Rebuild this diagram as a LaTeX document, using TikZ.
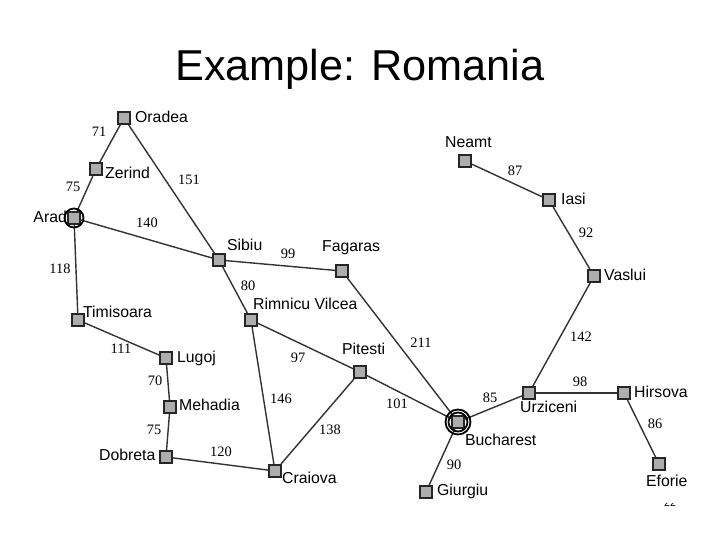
\documentclass[tikz,border=0pt]{standalone}
\usepackage{fontspec}
\setmainfont{Liberation Sans}
\newfontfamily\weightfont{Liberation Serif}
\usepackage{tikz}
\definecolor{cityfill}{gray}{0.68}
\definecolor{roadcol}{gray}{0.2}
\tikzset{
  city/.style={draw=black!85,fill=cityfill,line width=3pt,minimum size=17pt,inner sep=0pt},
  road/.style={draw=roadcol,line width=2pt},
  ring/.style={draw=black,line width=2.6pt},
  cityname/.style={font=\fontsize{22.5}{22.5}\selectfont,inner sep=0pt},
  weight/.style={font=\weightfont\fontsize{20.5}{20.5}\selectfont,inner sep=0pt}
}
\begin{document}
\begin{tikzpicture}[scale=0.5]
\useasboundingbox (0,0) rectangle (72,-54);
\node (title) [font=\fontsize{61.5}{61.5}\selectfont,inner sep=0pt] at (36,-6.9) {Example: Romania};
\node (oradea) [city] at (12.4,-11.8) {};
\node (zerind) [city] at (9.6,-16.9) {};
\node (arad) [city] at (7.4,-21.8) {};
\node (sibiu) [city] at (21.9,-26) {};
\node (fagaras) [city] at (34.2,-27.1) {};
\node (rimnicu) [city] at (25.1,-32) {};
\node (timisoara) [city] at (7.8,-32) {};
\node (lugoj) [city] at (16.6,-35.8) {};
\node (mehadia) [city] at (17,-40.7) {};
\node (dobreta) [city] at (16.6,-45.7) {};
\node (craiova) [city] at (27.5,-47.1) {};
\node (pitesti) [city] at (36,-37.2) {};
\node (bucharest) [city] at (45.8,-42.2) {};
\node (giurgiu) [city] at (42.6,-49.2) {};
\node (urziceni) [city] at (52.9,-39.3) {};
\node (hirsova) [city] at (62.4,-39.3) {};
\node (eforie) [city] at (65.9,-46.4) {};
\node (vaslui) [city] at (59.4,-27.6) {};
\node (iasi) [city] at (54.9,-20) {};
\node (neamt) [city] at (46.5,-16.1) {};
\draw [road] (oradea) -- (zerind);
\draw [road] (zerind) -- (arad);
\draw [road] (oradea) -- (sibiu);
\draw [road] (arad) -- (sibiu);
\draw [road] (arad) -- (timisoara);
\draw [road] (timisoara) -- (lugoj);
\draw [road] (lugoj) -- (mehadia);
\draw [road] (mehadia) -- (dobreta);
\draw [road] (dobreta) -- (craiova);
\draw [road] (sibiu) -- (fagaras);
\draw [road] (sibiu) -- (rimnicu);
\draw [road] (rimnicu) -- (craiova);
\draw [road] (rimnicu) -- (pitesti);
\draw [road] (craiova) -- (pitesti);
\draw [road] (pitesti) -- (bucharest);
\draw [road] (fagaras) -- (bucharest);
\draw [road] (bucharest) -- (giurgiu);
\draw [road] (bucharest) -- (urziceni);
\draw [road] (urziceni) -- (hirsova);
\draw [road] (hirsova) -- (eforie);
\draw [road] (urziceni) -- (vaslui);
\draw [road] (vaslui) -- (iasi);
\draw [road] (iasi) -- (neamt);
\draw [ring] (arad) circle (0.95);
\draw [ring] (bucharest) circle (0.95);
\draw [ring] (bucharest) circle (1.25);
\node (oradeatext) [cityname,anchor=west] at (13.5,-11.7) {Oradea};
\node (zerindtext) [cityname,anchor=west] at (10.5,-17.3) {Zerind};
\node (aradtext) [cityname,anchor=east] at (6.7,-21.7) {Arad};
\node (sibiutext) [cityname,anchor=west] at (22.7,-24.5) {Sibiu};
\node (fagarastext) [cityname,anchor=west] at (32.2,-24.8) {Fagaras};
\node (rimnicutext) [cityname,anchor=west] at (25.3,-30.4) {Rimnicu Vilcea};
\node (timisoaratext) [cityname,anchor=west] at (8.3,-31.2) {Timisoara};
\node (lugojtext) [cityname,anchor=west] at (17.7,-35.8) {Lugoj};
\node (mehadiatext) [cityname,anchor=west] at (17.9,-40.5) {Mehadia};
\node (dobretatext) [cityname,anchor=west] at (9.9,-45.5) {Dobreta};
\node (craiovatext) [cityname,anchor=west] at (28.2,-47.8) {Craiova};
\node (pitestitext) [cityname,anchor=west] at (34.2,-34.9) {Pitesti};
\node (bucharesttext) [cityname,anchor=west] at (46.5,-44) {Bucharest};
\node (giurgiutext) [cityname,anchor=west] at (43.7,-49.1) {Giurgiu};
\node (urzicenitext) [cityname,anchor=west] at (52,-40.7) {Urziceni};
\node (hirsovatext) [cityname,anchor=west] at (63.4,-39.2) {Hirsova};
\node (eforietext) [cityname,anchor=west] at (64.6,-48.1) {Eforie};
\node (vasluitext) [cityname,anchor=west] at (60.4,-27.5) {Vaslui};
\node (iasitext) [cityname,anchor=west] at (56.1,-19.9) {Iasi};
\node (neamttext) [cityname,anchor=west] at (44.5,-14.2) {Neamt};
\node (w71) [weight] at (9.9,-13.2) {71};
\node (w75a) [weight] at (7.3,-18.7) {75};
\node (w151) [weight] at (18.9,-18) {151};
\node (w140) [weight] at (14.7,-22.3) {140};
\node (w118) [weight] at (6,-26.9) {118};
\node (w99) [weight] at (28.8,-25.4) {99};
\node (w80) [weight] at (24.8,-28.6) {80};
\node (w111) [weight] at (12.1,-34.9) {111};
\node (w70) [weight] at (15.5,-38.1) {70};
\node (w75b) [weight] at (15.4,-43) {75};
\node (w120) [weight] at (22.1,-45.2) {120};
\node (w97) [weight] at (29.8,-35.8) {97};
\node (w146) [weight] at (28.1,-39.9) {146};
\node (w138) [weight] at (33,-43) {138};
\node (w101) [weight] at (39.7,-40.4) {101};
\node (w211) [weight] at (42.1,-34.3) {211};
\node (w85) [weight] at (49,-39.8) {85};
\node (w90) [weight] at (45.4,-46.5) {90};
\node (w98) [weight] at (58,-38.2) {98};
\node (w86) [weight] at (65.5,-42.4) {86};
\node (w142) [weight] at (58.1,-33.7) {142};
\node (w92) [weight] at (58.6,-23.3) {92};
\node (w87) [weight] at (51.5,-17.1) {87};
\begin{scope}
\clip (64,-50.3) rectangle (70,-52);
\node (pagenum) [font=\fontsize{15}{15}\selectfont,inner sep=0pt] at (67,-50.3) {22};
\end{scope}
\end{tikzpicture}
\end{document}
